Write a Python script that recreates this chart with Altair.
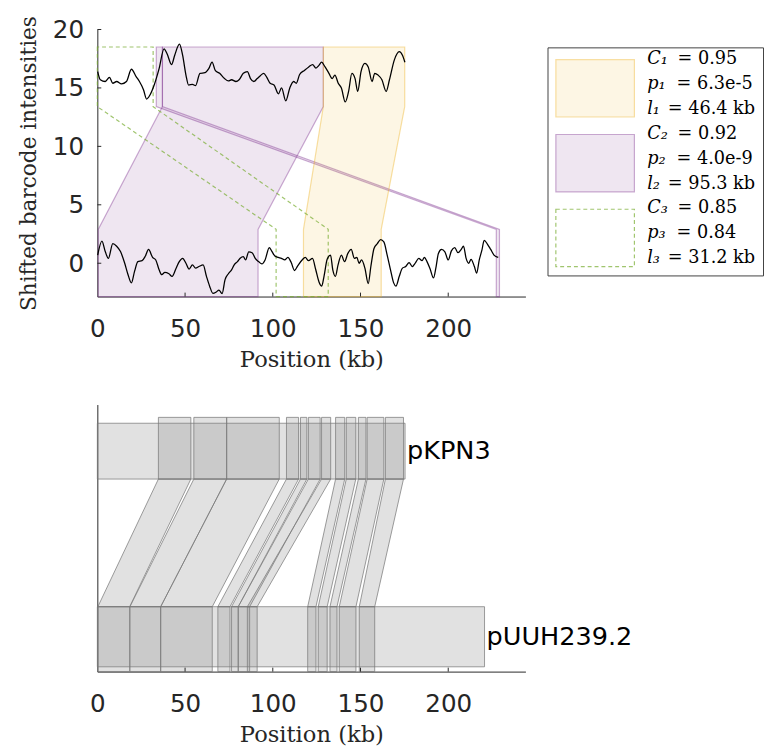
import altair as alt
import pandas as pd

# ---------------- data: barcode curves (shifted intensities) ----------------
top_pos = [0.2, 1.7, 4.5, 6.9, 8.8, 11.0, 13.8, 16.6, 19.4, 22.2,
           24.0, 26.3, 28.1, 30.0, 32.4, 35.2, 38.0, 39.8, 42.3, 44.1,
           46.8, 48.6, 50.5, 52.0, 54.2, 56.0, 58.5, 61.3, 63.5, 65.4,
           67.2, 69.7, 72.5, 74.7, 76.5, 79.0, 80.8, 83.2, 85.5, 87.3,
           89.2, 91.1, 92.9, 94.8, 96.6, 98.5, 100.7, 103.2, 105.0, 107.4,
           109.7, 111.9, 113.4, 115.3, 118.0, 120.5, 122.7, 124.6, 126.4, 127.8,
           129.8, 132.0, 133.9, 135.4, 137.3, 139.1, 141.3, 143.2, 145.1, 146.9,
           148.4, 150.3, 152.5, 154.4, 156.6, 158.1, 160.0, 162.2, 164.6, 166.5,
           169.3, 172.1, 173.9, 175.3]
top_val = [16.4, 15.7, 15.55, 15.9, 15.4, 15.55, 15.35, 15.55, 16.6, 15.95,
           15.55, 14.85, 14.05, 14.4, 15.25, 16.65, 18.35, 17.9, 17.0, 17.8,
           18.75, 17.8, 16.1, 15.25, 15.3, 15.2, 16.25, 16.3, 16.65, 17.2,
           16.5, 16.25, 15.8, 15.6, 15.7, 15.55, 15.7, 16.25, 16.4, 15.8,
           15.55, 15.8, 16.05, 16.25, 15.9, 15.4, 15.25, 14.5, 15.0, 13.9,
           15.0, 15.55, 15.4, 16.15, 16.5, 16.8, 17.0, 16.7, 16.95, 17.2,
           16.8, 16.25, 15.8, 16.1, 15.4, 15.0, 13.8, 14.7, 16.25, 15.8,
           14.7, 16.4, 17.1, 16.8, 15.55, 16.25, 16.1, 15.7, 14.7, 15.7,
           17.4, 18.1, 17.8, 17.2]

bot_pos = [0.2, 2.6, 4.5, 6.3, 8.8, 11.0, 13.2, 15.6, 17.5, 19.4,
           21.2, 23.1, 25.5, 27.4, 29.2, 31.5, 33.3, 35.2, 36.7, 38.5,
           40.8, 42.6, 44.9, 46.7, 48.6, 50.5, 52.3, 54.2, 56.0, 57.9,
           60.3, 62.2, 64.0, 65.9, 67.8, 69.3, 71.1, 72.8, 74.7, 76.5,
           78.0, 79.9, 81.4, 83.2, 84.5, 86.3, 88.2, 90.0, 91.9, 93.8,
           95.6, 98.0, 99.3, 101.2, 103.1, 104.9, 106.8, 108.6, 110.5, 112.4,
           114.2, 116.7, 118.5, 120.4, 122.6, 124.5, 126.4, 127.9, 129.2, 131.0,
           132.9, 134.2, 135.7, 137.2, 139.1, 140.9, 142.8, 144.7, 146.5, 147.9,
           149.2, 150.6, 152.5, 154.4, 155.9, 157.7, 159.6, 161.5, 163.3, 165.2,
           167.1, 168.9, 170.2, 172.1, 173.9, 175.8, 177.7, 179.5, 181.4, 183.2,
           185.1, 186.4, 187.9, 189.7, 191.6, 193.1, 194.4, 196.2, 198.1, 200.0,
           201.8, 203.7, 205.6, 207.4, 208.7, 210.2, 211.7, 213.0, 214.9, 216.2,
           217.7, 219.2, 220.5, 222.4, 224.2, 226.1, 228.5]
bot_val = [0.7, 1.9, 1.0, 0.42, 1.68, 1.46, 1.0, 0.0, -0.98, -1.68,
           -0.7, 0.14, 0.22, 0.62, 1.18, 0.5, 0.28, -0.56, -0.98, -0.78,
           -0.9, -1.12, -0.42, 0.14, 0.42, 0.0, -0.5, -0.14, -0.42, -0.28,
           -0.14, -1.12, -1.96, -2.58, -2.46, -2.3, -2.6, -1.4, -0.9, -0.56,
           -0.14, 0.14, 0.42, 0.56, 0.28, 0.98, 0.9, 0.42, 0.14, -0.06,
           0.28, 1.34, 1.06, 0.62, 0.5, 0.42, 0.28, 0.5, 0.06, -0.62,
           -0.22, 0.28, 0.5, 0.22, 0.42, -0.56, -1.62, -1.96, -1.12, 0.34,
           0.7, -0.56, -1.12, -0.14, 0.7, 0.14, 0.84, 1.18, 0.42, 0.5,
           0.0, 0.28, -0.42, -1.74, -0.28, 1.26, 1.68, 2.02, 1.82, 0.7,
           -0.56, -1.68, -1.96, -1.12, -0.42, -0.28, 0.06, -0.28, 0.06, 0.42,
           0.22, 0.5, 0.14, -0.5, -1.26, -0.28, 0.84, 1.18, 0.98, 0.28,
           1.06, 1.34, 0.9, 1.18, 1.46, 0.42, 0.0, 0.34, -0.28, -0.84,
           0.28, 1.12, 1.96, 1.62, 1.18, 0.7, 0.5]

# ---------------- data: matched regions ----------------
region_names = ["purple_main", "purple_wrap", "yellow", "green"]
region_lower_start = [0.5, 227.4, 117.5, 101.9]
region_lower_end = [91.6, 229.2, 161.8, 131.6]
region_upper_start = [37.1, 33.6, 128.8, 0.0]
region_upper_end = [128.8, 37.1, 175.2, 31.8]
region_levels = [-2.85, 2.9, 13.4, 18.5]   # bottom, lower top, upper bottom, upper top

legend_vars = ["C₁", "p₁", "l₁", "C₂", "p₂", "l₂", "C₃", "p₃", "l₃"]
legend_vals = ["= 0.95", "= 6.3e-5", "= 46.4 kb", "= 0.92", "= 4.0e-9",
               "= 95.3 kb", "= 0.85", "= 0.84", "= 31.2 kb"]

# ---------------- data: plasmid alignment ----------------
plasmids = ["pKPN3", "pUUH239.2"]
plasmid_len = [175.4, 220.7]
seg_top_start = [34.8, 55.0, 73.7, 107.8, 115.8, 120.3, 127.8, 135.8, 141.9, 148.8, 153.8, 164.2]
seg_top_end = [53.3, 73.7, 103.7, 114.7, 119.4, 127.0, 133.0, 141.0, 147.3, 153.1, 163.3, 174.5]
seg_bot_start = [0.3, 18.6, 36.1, 68.7, 76.5, 80.3, 85.5, 119.9, 125.9, 132.6, 137.9, 149.3]
seg_bot_end = [18.4, 36.1, 65.5, 75.6, 80.3, 86.8, 91.1, 124.6, 131.0, 136.6, 147.4, 158.1]

x_ticks = [0, 50, 100, 150, 200]
y_ticks = [0, 5, 10, 15, 20]

# ---------------- styles / layout ----------------
W, H = 436, 272
LEG_W = 220
SERIF = "DejaVu Serif"
SANS = "DejaVu Sans"
AX = "#262626"
PURPLE, YELLOW, GREEN = "#7e2f8e", "#edb120", "#77ac30"

# band levels of the alignment panel (in panel units, 0..10)
TOP_BAR = (7.21, 9.30)
TOP_SEG = (7.21, 9.52)
BOT_BAR = (0.18, 2.43)
BOT_SEG = (0.0, 2.43)

xscale = alt.Scale(domain=[0, 244], nice=False, zero=False)

def x_axis():
    return alt.Axis(values=x_ticks, format="d", ticks=False, grid=False,
                    labelFont=SANS, labelFontSize=25, labelColor=AX, labelPadding=21,
                    domainColor=AX, title="Position (kb)", titleFont=SERIF,
                    titleFontSize=23, titleFontWeight="normal", titleColor=AX,
                    titlePadding=7, labelFlush=False)

# ---------------- top panel ----------------
curves = pd.concat([
    pd.DataFrame({"pos": top_pos, "val": top_val, "which": "top"}),
    pd.DataFrame({"pos": bot_pos, "val": bot_val, "which": "bottom"}),
])

rows = []
for i, name in enumerate(region_names):
    for j, lv in enumerate(region_levels):
        if j < 2:
            rows.append({"region": name, "y": lv, "xl": region_lower_start[i], "xr": region_lower_end[i]})
        else:
            rows.append({"region": name, "y": lv, "xl": region_upper_start[i], "xr": region_upper_end[i]})
regions = pd.DataFrame(rows)

yscale_top = alt.Scale(domain=[-2.85, 20], nice=False, zero=False)

def region_layer(names, **mark):
    return (alt.Chart(regions).transform_filter(
        alt.FieldOneOfPredicate(field="region", oneOf=names))
        .mark_area(orient="horizontal", **mark)
        .encode(y=alt.Y("y:Q", scale=yscale_top,
                        axis=alt.Axis(values=y_ticks, ticks=False, grid=False,
                                      labelFont=SANS, labelFontSize=25, labelColor=AX,
                                      labelPadding=14, domainColor=AX,
                                      title="Shifted barcode intensities",
                                      titleFont=SERIF, titleFontSize=22,
                                      titleFontWeight="normal", titleColor=AX,
                                      titlePadding=12, labelFlush=False)),
                x=alt.X("xl:Q", scale=xscale, axis=x_axis(), stack=None),
                x2="xr:Q", detail="region:N"))

purple = region_layer(["purple_main", "purple_wrap"], fill=PURPLE, fillOpacity=0.12,
                      stroke=PURPLE, strokeOpacity=0.4, strokeWidth=1.2)
yellow = region_layer(["yellow"], fill=YELLOW, fillOpacity=0.12,
                      stroke=YELLOW, strokeOpacity=0.4, strokeWidth=1.2)
green = region_layer(["green"], fillOpacity=0, fill="white", stroke=GREEN,
                     strokeOpacity=0.7, strokeWidth=1.2, strokeDash=[4, 3])

curve_layer = alt.Chart(curves).mark_line(color="black", strokeWidth=1.3,
                                          interpolate="monotone").encode(
    x=alt.X("pos:Q", scale=xscale), y=alt.Y("val:Q", scale=yscale_top),
    detail="which:N")

xt = pd.DataFrame({"t": x_ticks[1:]})
yt = pd.DataFrame({"t": y_ticks})
xtick_top = alt.Chart(xt).mark_rule(color=AX).encode(
    x=alt.X("t:Q", scale=xscale), y=alt.value(H), y2=alt.value(H - 4))
ytick_top = alt.Chart(yt).mark_rule(color=AX).encode(
    y=alt.Y("t:Q", scale=yscale_top), x=alt.value(0), x2=alt.value(4))

top = alt.layer(purple, yellow, green, curve_layer, xtick_top, ytick_top).properties(
    width=W, height=H)

# ---------------- legend panel ----------------
leg = pd.DataFrame({"var": legend_vars, "val": legend_vals, "line": list(range(9))})
leg["eqx"] = [132 if v[0] == "C" else (131 if v[0] == "p" else 122) for v in legend_vars]
sw = pd.DataFrame({"k": [0, 1, 2]})
sw["y0"] = sw["k"] * 3 + 0.03
sw["y1"] = sw["k"] * 3 + 2.33
lyscale = alt.Scale(domain=[-1.18, 9.53], reverse=True, nice=False, zero=False)

box = alt.Chart(pd.DataFrame({"a": [0]})).mark_rect(
    fill="white", stroke="#404040", strokeWidth=1).encode(
    x=alt.value(0), x2=alt.value(LEG_W - 0.5), y=alt.value(18.7), y2=alt.value(251))

def swatch(k, **mark):
    return alt.Chart(sw).transform_filter(alt.datum.k == k).mark_rect(**mark).encode(
        x=alt.value(8), x2=alt.value(88),
        y=alt.Y("y0:Q", scale=lyscale, axis=None), y2="y1:Q")

sw_y = swatch(0, fill=YELLOW, fillOpacity=0.12, stroke=YELLOW, strokeOpacity=0.4, strokeWidth=1.2)
sw_p = swatch(1, fill=PURPLE, fillOpacity=0.12, stroke=PURPLE, strokeOpacity=0.4, strokeWidth=1.2)
sw_g = swatch(2, fill="white", fillOpacity=0, stroke=GREEN, strokeOpacity=0.7,
              strokeWidth=1.2, strokeDash=[4, 3])

ltxt_var = alt.Chart(leg).mark_text(align="left", baseline="middle", font=SERIF,
                                     fontSize=18, fontStyle="italic", color="black").encode(
    x=alt.value(101), y=alt.Y("line:Q", scale=lyscale, axis=None), text="var:N")
ltxt_val = alt.Chart(leg).mark_text(align="left", baseline="middle", font=SERIF,
                                     fontSize=18, color="black").encode(
    x=alt.X("eqx:Q", scale=None), y=alt.Y("line:Q", scale=lyscale, axis=None), text="val:N")

legend = alt.layer(box, sw_y, sw_p, sw_g, ltxt_var, ltxt_val).properties(width=LEG_W, height=H)

# ---------------- bottom panel ----------------
yscale_bot = alt.Scale(domain=[0, 10], nice=False, zero=False)
ybot_axis = alt.Axis(values=[5], labelExpr="'20'", ticks=False, grid=False,
                     labelFont=SANS, labelFontSize=25, labelColor="transparent",
                     labelPadding=14, domainColor=AX, title="S",
                     titleFont=SERIF, titleFontSize=22, titleFontWeight="normal",
                     titleColor="transparent", titlePadding=12)

bars = pd.DataFrame({"name": plasmids, "len": plasmid_len,
                     "y0": [TOP_BAR[0], BOT_BAR[0]], "y1": [TOP_BAR[1], BOT_BAR[1]],
                     "ym": [(TOP_BAR[0] + TOP_BAR[1]) / 2, (BOT_BAR[0] + BOT_BAR[1]) / 2]})
bars["start"] = 0.0

segs = pd.concat([
    pd.DataFrame({"s": seg_top_start, "e": seg_top_end, "y0": TOP_SEG[0], "y1": TOP_SEG[1]}),
    pd.DataFrame({"s": seg_bot_start, "e": seg_bot_end, "y0": BOT_SEG[0], "y1": BOT_SEG[1]}),
])

conn_rows = []
for i in range(len(seg_top_start)):
    conn_rows.append({"seg": i, "y": BOT_SEG[1], "xl": seg_bot_start[i], "xr": seg_bot_end[i]})
    conn_rows.append({"seg": i, "y": TOP_SEG[0], "xl": seg_top_start[i], "xr": seg_top_end[i]})
conn = pd.DataFrame(conn_rows)

GRAYFILL = dict(fill="#808080", fillOpacity=0.24, stroke="#7a7a7a", strokeOpacity=0.75, strokeWidth=1)

bar_layer = alt.Chart(bars).mark_rect(**GRAYFILL).encode(
    x=alt.X("start:Q", scale=xscale, axis=x_axis()), x2="len:Q",
    y=alt.Y("y0:Q", scale=yscale_bot, axis=ybot_axis), y2="y1:Q")
seg_layer = alt.Chart(segs).mark_rect(**GRAYFILL).encode(
    x=alt.X("s:Q", scale=xscale), x2="e:Q",
    y=alt.Y("y0:Q", scale=yscale_bot), y2="y1:Q")
conn_layer = alt.Chart(conn).mark_area(orient="horizontal", **GRAYFILL).encode(
    y=alt.Y("y:Q", scale=yscale_bot), x=alt.X("xl:Q", scale=xscale, stack=None),
    x2="xr:Q", detail="seg:N")
label_layer = alt.Chart(bars).mark_text(align="left", baseline="middle", dx=2,
                                        font=SANS, fontSize=26, color="black").encode(
    x=alt.X("len:Q", scale=xscale), y=alt.Y("ym:Q", scale=yscale_bot), text="name:N")
xtick_bot = alt.Chart(xt).mark_rule(color=AX).encode(
    x=alt.X("t:Q", scale=xscale), y=alt.value(H), y2=alt.value(H - 4))

bottom = alt.layer(bar_layer, seg_layer, conn_layer, label_layer, xtick_bot).properties(
    width=W, height=H)

chart = alt.vconcat(
    alt.hconcat(top, legend, spacing=22),
    bottom, spacing=34
).properties(
    padding={"left": 10, "top": 0, "right": 0, "bottom": 0},
    background="white"
).configure_view(stroke=None)

chart.save("out.html", embed_options={"renderer": "svg", "actions": False})
